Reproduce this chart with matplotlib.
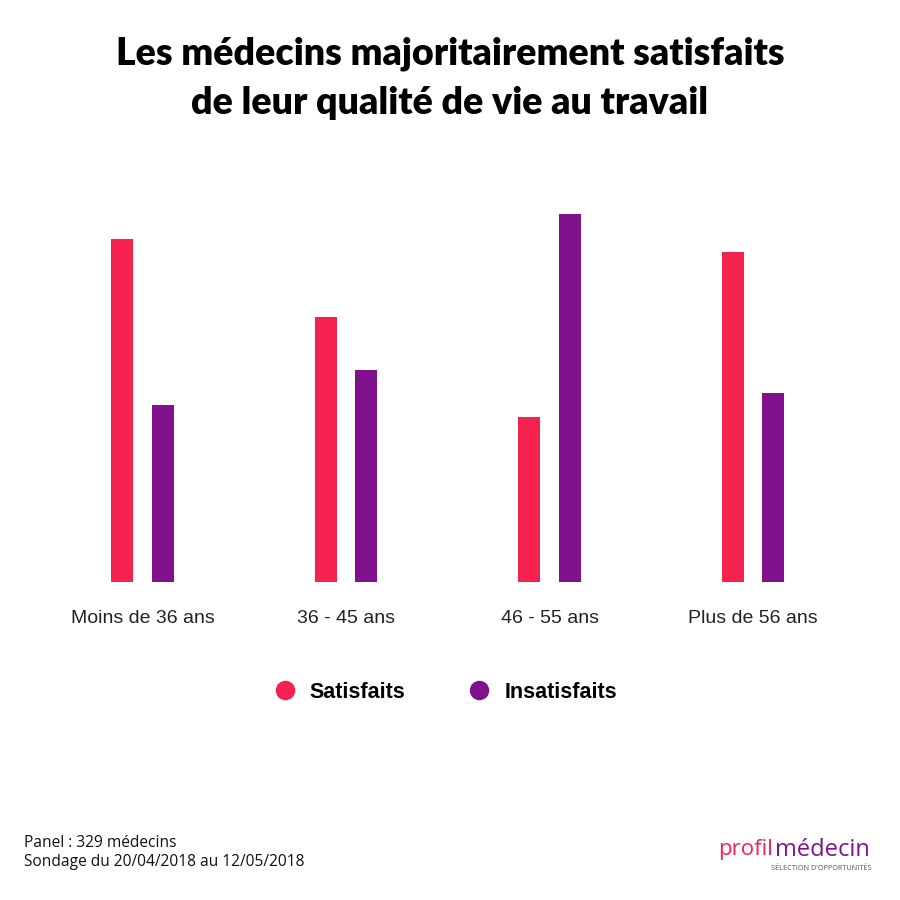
import matplotlib
matplotlib.use("Agg")
import matplotlib.pyplot as plt
from matplotlib.lines import Line2D
import numpy as np

categories = ["Moins de 36 ans", "36 - 45 ans", "46 - 55 ans", "Plus de 56 ans"]
satisfaits = [55, 42.5, 26.5, 53]
insatisfaits = [28.5, 34, 59, 30.3]
series_names = ["Satisfaits", "Insatisfaits"]

RED = "#F5214F"
PURPLE = "#80128C"

fig = plt.figure(figsize=(9, 9), dpi=100)
fig.patch.set_facecolor("white")

# axes placed so that baseline ~ y=582px, group spacing ~203px
ax = fig.add_axes([0.0454, 0.3528, 0.9044, 0.416])
x = np.arange(len(categories))
w = 0.108
off = 0.099
ax.bar(x - off, satisfaits, width=w, color=RED)
ax.bar(x + off, insatisfaits, width=w, color=PURPLE)
ax.set_xlim(-0.5, 3.5)
ax.set_ylim(0, 60)
ax.set_yticks([])
ax.set_xticks(x)
ax.set_xticklabels(categories, fontfamily="Liberation Sans", fontsize=14, color="#222222")
ax.tick_params(axis="x", length=0, pad=20)
for s in ax.spines.values():
    s.set_visible(False)

# Title
fig.text(0.5, 1 - 54 / 900, "Les médecins majoritairement satisfaits", ha="center", va="center",
         fontfamily="Lato", fontweight="heavy", fontsize=27, color="black")
fig.text(0.5, 1 - 103 / 900, "de leur qualité de vie au travail", ha="center", va="center",
         fontfamily="Lato", fontweight="heavy", fontsize=27, color="black")

# Legend
handles = [Line2D([], [], marker="o", linestyle="none", markersize=13, color=RED),
           Line2D([], [], marker="o", linestyle="none", markersize=13, color=PURPLE)]
leg = fig.legend(handles, series_names, loc="center", bbox_to_anchor=(0.4925, 1 - 692 / 900), ncol=2,
                 frameon=False, columnspacing=2.75, handletextpad=0.45, handlelength=1.4,
                 prop={"family": "Liberation Sans", "weight": "bold", "size": 15.5})

# Footer
fig.text(24 / 900, 1 - 843 / 900, "Panel : 329 médecins", ha="left", va="center",
         fontfamily="Open Sans", fontsize=11.2, color="#111111")
fig.text(24 / 900, 1 - 862 / 900, "Sondage du 20/04/2018 au 12/05/2018", ha="left", va="center",
         fontfamily="Open Sans", fontsize=11.2, color="#111111")

# Logo
fig.text(718 / 900, 1 - 850 / 900, "profil", ha="left", va="center",
         fontfamily="Open Sans", fontsize=16, color=RED)
fig.text(775 / 900, 1 - 850 / 900, "médecin", ha="left", va="center",
         fontfamily="Open Sans", fontsize=17, color=PURPLE)
fig.text(771 / 900, 1 - 868 / 900, "SÉLECTION D'OPPORTUNITÉS", ha="left", va="center",
         fontfamily="Open Sans", fontsize=5.2, color="#555555")

fig.savefig("out.png", dpi=100, facecolor="white")
